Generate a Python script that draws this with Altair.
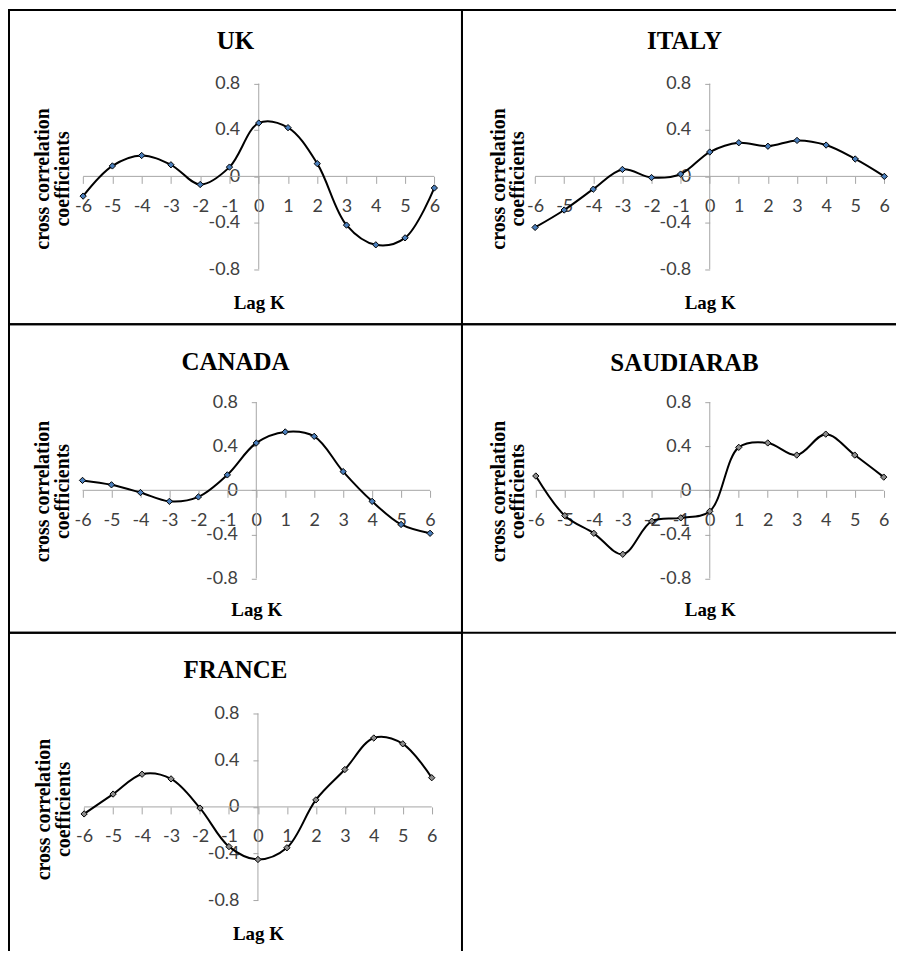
import altair as alt
import pandas as pd

# ---------------- data ----------------
lags = [-6, -5, -4, -3, -2, -1, 0, 1, 2, 3, 4, 5, 6]
uk = [-0.17, 0.09, 0.18, 0.10, -0.07, 0.08, 0.46, 0.42, 0.11, -0.42, -0.59, -0.53, -0.10]
italy = [-0.44, -0.29, -0.11, 0.06, -0.01, 0.02, 0.21, 0.29, 0.26, 0.31, 0.27, 0.15, 0.00]
canada = [0.09, 0.05, -0.02, -0.10, -0.06, 0.14, 0.43, 0.53, 0.49, 0.17, -0.10, -0.31, -0.39]
saudi = [0.13, -0.23, -0.39, -0.58, -0.28, -0.25, -0.19, 0.39, 0.43, 0.32, 0.51, 0.32, 0.12]
france = [-0.06, 0.11, 0.28, 0.24, -0.01, -0.34, -0.45, -0.35, 0.06, 0.32, 0.59, 0.54, 0.25]

x_tick_values = lags
x_tick_labels = ["-6", "-5", "-4", "-3", "-2", "-1", "0", "1", "2", "3", "4", "5", "6"]
y_tick_values = [-0.8, -0.4, 0, 0.4, 0.8]
y_tick_labels = ["-0.8", "-0.4", "0", "0.4", "0.8"]

x_title = "Lag K"
y_title = ["cross correlation", "coefficients"]

BLUE = "#4a7ebb"
GREY = "#8c8c8c"
AXIS_COL = "#a6a6a6"
LABEL_COL = "#404040"
SERIF = "Liberation Serif"
SANS = "Lato"


def label_expr(values, labels):
    vals = "[" + ",".join(str(v) for v in values) + "]"
    labs = "[" + ",".join("'" + s + "'" for s in labels) + "]"
    return f"{labs}[indexof({vals}, datum.value)]"


# ---------------- layout (style) ----------------
panels = [
    dict(name="UK", vals=uk, W=454, H=315, xr=[74.3, 426.3], yr=[259.7, 73.7],
         title_y=31, lag_dy=126.7, yt_dx=-216.3, yt_y=168.7, fill=BLUE),
    dict(name="ITALY", vals=italy, W=446, H=315, xr=[73.3, 423.3], yr=[259.7, 73.7],
         title_y=31, lag_dy=126.7, yt_dx=-211.8, yt_y=168.7, fill=BLUE),
    dict(name="CANADA", vals=canada, W=454, H=309, xr=[73.7, 422.0], yr=[254.7, 78.0],
         title_y=37.5, lag_dy=119.3, yt_dx=-214.2, yt_y=167, fill=BLUE),
    dict(name="SAUDIARAB", vals=saudi, W=446, H=309, xr=[74.0, 422.7], yr=[254.7, 78.0],
         title_y=38.7, lag_dy=119.3, yt_dx=-212.1, yt_y=167, fill=GREY),
    dict(name="FRANCE", vals=france, W=454, H=327, xr=[75.3, 423.7], yr=[268.3, 81.0],
         title_y=37.5, lag_dy=126.6, yt_dx=-214.5, yt_y=176.7, fill=GREY),
]


def make_panel(p):
    df = pd.DataFrame({"lag": lags, "r": p["vals"]})
    x0 = (p["xr"][0] + p["xr"][1]) / 2.0
    y0 = (p["yr"][0] + p["yr"][1]) / 2.0

    xs = alt.Scale(domain=[lags[0], lags[-1]], range=p["xr"], nice=False, zero=False)
    ys = alt.Scale(domain=[y_tick_values[0], y_tick_values[-1]], range=p["yr"],
                   nice=False, zero=False)

    xaxis = alt.Axis(
        values=x_tick_values, labelExpr=label_expr(x_tick_values, x_tick_labels),
        domain=False, grid=False, ticks=True, tickSize=7, tickColor=AXIS_COL, tickWidth=1,
        labelFont=SANS, labelFontSize=18, labelColor=LABEL_COL, labelAngle=0,
        labelBaseline="middle", labelPadding=23, labelFlush=False, labelOverlap=False,
        offset=y0 - p["H"],
        title=x_title, titleX=x0, titleY=p["lag_dy"], titleFont=SERIF, titleFontSize=19,
        titleFontWeight="bold", titleColor="black", titleBaseline="middle",
        titleAlign="center", titleAngle=0,
    )
    yaxis = alt.Axis(
        values=y_tick_values, labelExpr=label_expr(y_tick_values, y_tick_labels),
        orient="left", domain=False, grid=False, ticks=True, tickSize=5,
        tickColor=AXIS_COL, tickWidth=1,
        labelFont=SANS, labelFontSize=18, labelColor=LABEL_COL, labelAlign="right",
        labelBaseline="middle", labelPadding=14, labelFlush=False, labelOverlap=False,
        offset=-x0,
        title=y_title, titleX=p["yt_dx"], titleY=p["yt_y"], titleFont=SERIF,
        titleFontSize=20, titleFontWeight="bold", titleColor="black",
        titleAngle=270, titleAlign="center", titleBaseline="middle", titleLineHeight=19.5,
    )

    X = alt.X("lag:Q", scale=xs, axis=xaxis)
    Y = alt.Y("r:Q", scale=ys, axis=yaxis)

    xline_df = pd.DataFrame({"lag": [lags[0]], "lag2": [lags[-1]], "r": [0.0]})
    yline_df = pd.DataFrame({"lag": [0.0], "r": [y_tick_values[0]], "r2": [y_tick_values[-1]]})
    title_df = pd.DataFrame({"name": [p["name"]]})

    xline = alt.Chart(xline_df).mark_rule(color=AXIS_COL, strokeWidth=1).encode(
        x=X, x2="lag2:Q", y=Y)
    yline = alt.Chart(yline_df).mark_rule(color=AXIS_COL, strokeWidth=1).encode(
        x=X, y=Y, y2="r2:Q")
    line = alt.Chart(df).mark_line(color="black", strokeWidth=2,
                                   interpolate="catmull-rom").encode(x=X, y=Y)
    pts = alt.Chart(df).mark_point(shape="diamond", filled=True, fill=p["fill"],
                                   stroke="black", strokeWidth=1, size=40,
                                   opacity=1).encode(x=X, y=Y)
    title = alt.Chart(title_df).mark_text(
        font=SERIF, fontSize=25, fontWeight="bold", color="black",
        align="center", baseline="middle",
    ).encode(x=alt.value(p["W"] / 2.0), y=alt.value(p["title_y"]), text="name:N")

    return alt.layer(xline, yline, line, pts, title).properties(
        width=p["W"], height=p["H"],
    )


charts = [make_panel(p) for p in panels]

chart = alt.concat(*charts, columns=2, spacing=0, bounds="flush").properties(
    padding={"top": 0, "left": 0, "right": -12, "bottom": -10},
    background="white",
).configure_view(stroke="black", strokeWidth=2).configure_concat(spacing=0)

chart.save("out.html", embed_options={"renderer": "svg", "actions": False})
